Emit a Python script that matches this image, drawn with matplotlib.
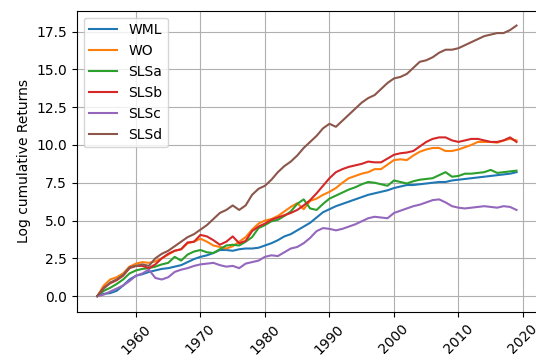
import matplotlib
matplotlib.use("Agg")
import matplotlib.pyplot as plt
import numpy as np

# yearly readings of the cumulative log returns
years = np.arange(1954, 2020)

wml = [0.0, 0.15, 0.2, 0.35, 0.7, 1.1, 1.35, 1.45, 1.6, 1.7,
       1.8, 1.85, 1.95, 2.05, 2.25, 2.45, 2.6, 2.7, 2.85, 3.05,
       3.05, 3.0, 3.1, 3.15, 3.15, 3.2, 3.35, 3.5, 3.7, 3.95,
       4.1, 4.35, 4.6, 4.85, 5.2, 5.55, 5.75, 5.95, 6.1, 6.25,
       6.4, 6.55, 6.7, 6.8, 6.9, 7.0, 7.15, 7.25, 7.35, 7.35,
       7.4, 7.45, 7.5, 7.55, 7.55, 7.65, 7.7, 7.75, 7.8, 7.85,
       7.9, 7.95, 8.0, 8.05, 8.1, 8.2]

wo = [0.0, 0.7, 1.1, 1.25, 1.5, 1.95, 2.15, 2.25, 2.2, 2.3,
      2.5, 2.75, 3.0, 3.1, 3.5, 3.6, 3.8, 3.6, 3.35, 3.25,
      3.15, 3.3, 3.6, 3.9, 4.4, 4.8, 5.0, 5.1, 5.3, 5.6,
      5.9, 6.15, 5.75, 6.3, 6.45, 6.7, 6.9, 7.15, 7.5, 7.8,
      7.95, 8.1, 8.2, 8.4, 8.4, 8.7, 9.0, 9.05, 9.0, 9.3,
      9.55, 9.7, 9.8, 9.8, 9.6, 9.6, 9.7, 9.85, 10.0, 10.2,
      10.2, 10.2, 10.15, 10.3, 10.4, 10.3]

slsa = [0.0, 0.35, 0.55, 0.8, 1.1, 1.5, 1.7, 1.8, 1.85, 1.95,
        2.1, 2.2, 2.6, 2.35, 2.75, 2.95, 3.05, 2.9, 2.85, 3.1,
        3.35, 3.4, 3.35, 3.6, 3.9, 4.5, 4.7, 4.95, 5.05, 5.3,
        5.6, 6.1, 6.4, 5.8, 5.7, 6.1, 6.45, 6.65, 6.85, 7.05,
        7.2, 7.4, 7.55, 7.5, 7.4, 7.3, 7.65, 7.55, 7.45, 7.6,
        7.7, 7.75, 7.8, 8.0, 8.2, 7.9, 7.95, 8.1, 8.1, 8.15,
        8.2, 8.35, 8.15, 8.2, 8.25, 8.3]

slsb = [0.0, 0.55, 0.85, 1.05, 1.35, 1.85, 2.0, 2.0, 1.85, 2.1,
        2.5, 2.8, 3.0, 3.1, 3.55, 3.6, 4.05, 3.95, 3.7, 3.4,
        3.6, 3.95, 3.5, 3.65, 4.3, 4.6, 4.8, 5.05, 5.2, 5.35,
        5.5, 5.7, 6.0, 6.35, 6.8, 7.3, 7.8, 8.2, 8.4, 8.55,
        8.65, 8.75, 8.9, 8.85, 8.85, 9.1, 9.35, 9.45, 9.5, 9.6,
        9.9, 10.2, 10.4, 10.5, 10.5, 10.3, 10.2, 10.3, 10.4, 10.4,
        10.3, 10.2, 10.2, 10.3, 10.5, 10.2]

slsc = [0.0, 0.1, 0.3, 0.5, 0.7, 1.0, 1.35, 1.5, 1.75, 1.2,
        1.1, 1.25, 1.6, 1.75, 1.85, 2.0, 2.1, 2.15, 2.2, 2.05,
        1.95, 2.0, 1.85, 2.15, 2.25, 2.35, 2.6, 2.7, 2.65, 2.9,
        3.15, 3.25, 3.5, 3.85, 4.3, 4.5, 4.45, 4.35, 4.45, 4.6,
        4.75, 4.95, 5.15, 5.25, 5.2, 5.15, 5.5, 5.65, 5.8, 5.95,
        6.05, 6.2, 6.35, 6.4, 6.2, 5.95, 5.85, 5.8, 5.85, 5.9,
        5.95, 5.9, 5.85, 5.95, 5.9, 5.7]

slsd = [0.0, 0.5, 0.9, 1.1, 1.4, 1.9, 2.0, 2.1, 2.0, 2.5,
        2.8, 3.0, 3.3, 3.6, 3.9, 4.1, 4.4, 4.7, 5.1, 5.5,
        5.7, 6.0, 5.7, 6.0, 6.7, 7.1, 7.3, 7.7, 8.2, 8.6,
        8.9, 9.3, 9.8, 10.2, 10.6, 11.1, 11.4, 11.2, 11.6, 12.0,
        12.4, 12.8, 13.1, 13.3, 13.7, 14.1, 14.4, 14.5, 14.7, 15.1,
        15.5, 15.6, 15.8, 16.1, 16.3, 16.3, 16.4, 16.6, 16.8, 17.0,
        17.2, 17.3, 17.4, 17.4, 17.6, 17.9]

names = ["WML", "WO", "SLSa", "SLSb", "SLSc", "SLSd"]
series = [wml, wo, slsa, slsb, slsc, slsd]

fig = plt.figure(figsize=(5.36, 3.63), dpi=100)
# right spine sits just past the image edge, as in the cropped original
ax = fig.add_axes([0.143, 0.1405, 0.866, 0.830])

for name, vals in zip(names, series):
    ax.plot(years, vals, label=name, linewidth=1.5)

ax.set_xlim(1950.8, 2022.77)
ax.set_xticks(np.arange(1960, 2030, 10))
ax.tick_params(axis='x', labelrotation=45)
ax.set_ylim(-1.05, 18.88)
ax.set_ylabel("Log cumulative Returns")
ax.grid(True)
ax.legend(loc="upper left")

plt.savefig("out.png", dpi=100)
plt.close()
